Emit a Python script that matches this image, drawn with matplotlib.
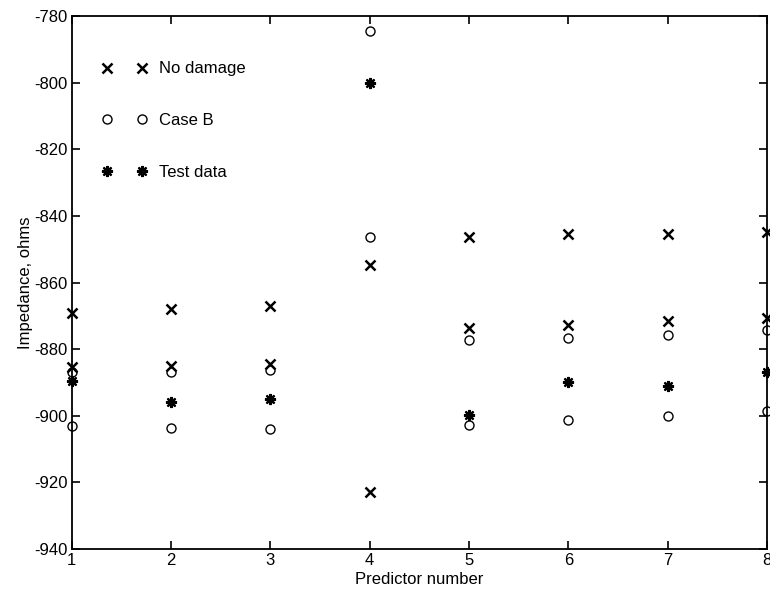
import numpy as np
import matplotlib
matplotlib.use("Agg")
import matplotlib.pyplot as plt

# Значения
predictor = [1, 2, 3, 4, 5, 6, 7, 8]
no_damage_hi = [-869, -868, -867, -854.7, -846.4, -845.4, -845.4, -844.8]
no_damage_lo = [-885.5, -885, -884.4, -922.8, -873.7, -872.8, -871.5, -870.7]
case_b_hi = [-887, -887, -886.2, -784.5, -877.4, -876.7, -875.7, -874.2]
case_b_lo = [-903, -903.6, -904, -846.4, -902.7, -901.2, -900, -898.7]
test_data = [-889.7, -896, -895, -800, -899.7, -889.9, -891, -887]

plt.rcParams["font.family"] = ["Liberation Sans", "DejaVu Sans"]
plt.rcParams["axes.unicode_minus"] = False

fig = plt.figure(figsize=(7.7, 5.95), dpi=100)
ax = fig.add_axes([0.0931, 0.0773, 0.9029, 0.8957])

xx = np.r_[predictor, predictor]
ax.plot(xx, np.r_[no_damage_hi, no_damage_lo], ls="none", marker="x",
        ms=7.5, mew=1.8, color="black", clip_on=False, label="No damage")
ax.plot(xx, np.r_[case_b_hi, case_b_lo], ls="none", marker="o",
        ms=6.5, mew=1.0, mfc="none", color="black", clip_on=False, label="Case B")
ax.plot(predictor, test_data, ls="none", marker=(8, 2, 0),
        ms=8, mew=1.6, color="black", clip_on=False, label="Test data")

ax.set_xlim(1, 8)
ax.set_ylim(-940, -780)
ax.set_xticks(predictor)
ax.set_yticks(np.arange(-940, -779, 20))
ax.tick_params(direction="in", top=True, right=True, length=6, width=1.2,
               labelsize=12, pad=3)
for s in ax.spines.values():
    s.set_linewidth(1.3)

ax.set_xlabel("Predictor number", fontsize=12, labelpad=3)
ax.set_ylabel("Impedance, ohms", fontsize=12, labelpad=1)

ax.legend(loc="upper left", bbox_to_anchor=(0.043, 0.915), frameon=False,
          numpoints=2, fontsize=12, borderpad=0, borderaxespad=0,
          handlelength=2.75, handletextpad=0.7, labelspacing=2.2)

fig.savefig("out.png", dpi=100)
